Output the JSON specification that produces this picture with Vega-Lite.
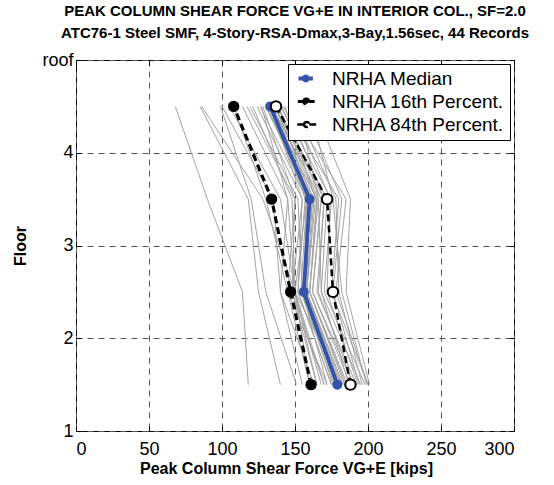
{
  "$schema": "https://vega.github.io/schema/vega-lite/v6.json",
  "width": 438,
  "height": 371,
  "autosize": "none",
  "padding": {"left": 76, "top": 60, "right": 40, "bottom": 54},
  "title": {
    "text": "PEAK COLUMN SHEAR FORCE VG+E IN INTERIOR COL., SF=2.0",
    "subtitle": "ATC76-1 Steel SMF, 4-Story-RSA-Dmax,3-Bay,1.56sec, 44 Records",
    "font": "Liberation Sans",
    "fontSize": 15,
    "fontWeight": "bold",
    "color": "black",
    "subtitleFont": "Liberation Sans",
    "subtitleFontSize": 15,
    "subtitleFontWeight": "bold",
    "subtitleColor": "black",
    "subtitlePadding": 7,
    "offset": 10,
    "anchor": "middle"
  },
  "datasets": {
    "records": [
      {"r":1,"f":4.5,"v":68},{"r":1,"f":3.5,"v":90},{"r":1,"f":2.5,"v":114},{"r":1,"f":1.5,"v":118},
      {"r":2,"f":4.5,"v":85},{"r":2,"f":3.5,"v":118},{"r":2,"f":2.5,"v":125},{"r":2,"f":1.5,"v":140},
      {"r":3,"f":4.5,"v":86},{"r":3,"f":3.5,"v":128},{"r":3,"f":2.5,"v":150},{"r":3,"f":1.5,"v":160},
      {"r":4,"f":4.5,"v":99},{"r":4,"f":3.5,"v":120},{"r":4,"f":2.5,"v":130},{"r":4,"f":1.5,"v":151},
      {"r":5,"f":4.5,"v":100},{"r":5,"f":3.5,"v":135},{"r":5,"f":2.5,"v":140},{"r":5,"f":1.5,"v":155},
      {"r":6,"f":4.5,"v":105},{"r":6,"f":3.5,"v":140},{"r":6,"f":2.5,"v":150},{"r":6,"f":1.5,"v":165},
      {"r":7,"f":4.5,"v":108},{"r":7,"f":3.5,"v":130},{"r":7,"f":2.5,"v":145},{"r":7,"f":1.5,"v":160},
      {"r":8,"f":4.5,"v":114},{"r":8,"f":3.5,"v":145},{"r":8,"f":2.5,"v":150},{"r":8,"f":1.5,"v":170},
      {"r":9,"f":4.5,"v":117},{"r":9,"f":3.5,"v":150},{"r":9,"f":2.5,"v":148},{"r":9,"f":1.5,"v":165},
      {"r":10,"f":4.5,"v":119},{"r":10,"f":3.5,"v":152},{"r":10,"f":2.5,"v":155},{"r":10,"f":1.5,"v":172},
      {"r":11,"f":4.5,"v":121},{"r":11,"f":3.5,"v":148},{"r":11,"f":2.5,"v":150},{"r":11,"f":1.5,"v":168},
      {"r":12,"f":4.5,"v":124},{"r":12,"f":3.5,"v":155},{"r":12,"f":2.5,"v":152},{"r":12,"f":1.5,"v":175},
      {"r":13,"f":4.5,"v":126},{"r":13,"f":3.5,"v":158},{"r":13,"f":2.5,"v":156},{"r":13,"f":1.5,"v":178},
      {"r":14,"f":4.5,"v":128},{"r":14,"f":3.5,"v":150},{"r":14,"f":2.5,"v":145},{"r":14,"f":1.5,"v":172},
      {"r":15,"f":4.5,"v":130},{"r":15,"f":3.5,"v":160},{"r":15,"f":2.5,"v":158},{"r":15,"f":1.5,"v":180},
      {"r":16,"f":4.5,"v":130},{"r":16,"f":3.5,"v":162},{"r":16,"f":2.5,"v":155},{"r":16,"f":1.5,"v":176},
      {"r":17,"f":4.5,"v":131},{"r":17,"f":3.5,"v":158},{"r":17,"f":2.5,"v":150},{"r":17,"f":1.5,"v":182},
      {"r":18,"f":4.5,"v":132},{"r":18,"f":3.5,"v":165},{"r":18,"f":2.5,"v":160},{"r":18,"f":1.5,"v":185},
      {"r":19,"f":4.5,"v":133},{"r":19,"f":3.5,"v":160},{"r":19,"f":2.5,"v":155},{"r":19,"f":1.5,"v":178},
      {"r":20,"f":4.5,"v":133},{"r":20,"f":3.5,"v":155},{"r":20,"f":2.5,"v":148},{"r":20,"f":1.5,"v":170},
      {"r":21,"f":4.5,"v":134},{"r":21,"f":3.5,"v":163},{"r":21,"f":2.5,"v":158},{"r":21,"f":1.5,"v":183},
      {"r":22,"f":4.5,"v":134},{"r":22,"f":3.5,"v":168},{"r":22,"f":2.5,"v":162},{"r":22,"f":1.5,"v":190},
      {"r":23,"f":4.5,"v":135},{"r":23,"f":3.5,"v":160},{"r":23,"f":2.5,"v":157},{"r":23,"f":1.5,"v":180},
      {"r":24,"f":4.5,"v":135},{"r":24,"f":3.5,"v":157},{"r":24,"f":2.5,"v":152},{"r":24,"f":1.5,"v":175},
      {"r":25,"f":4.5,"v":136},{"r":25,"f":3.5,"v":165},{"r":25,"f":2.5,"v":160},{"r":25,"f":1.5,"v":186},
      {"r":26,"f":4.5,"v":136},{"r":26,"f":3.5,"v":170},{"r":26,"f":2.5,"v":165},{"r":26,"f":1.5,"v":192},
      {"r":27,"f":4.5,"v":137},{"r":27,"f":3.5,"v":162},{"r":27,"f":2.5,"v":158},{"r":27,"f":1.5,"v":181},
      {"r":28,"f":4.5,"v":137},{"r":28,"f":3.5,"v":158},{"r":28,"f":2.5,"v":154},{"r":28,"f":1.5,"v":177},
      {"r":29,"f":4.5,"v":138},{"r":29,"f":3.5,"v":172},{"r":29,"f":2.5,"v":168},{"r":29,"f":1.5,"v":195},
      {"r":30,"f":4.5,"v":138},{"r":30,"f":3.5,"v":166},{"r":30,"f":2.5,"v":160},{"r":30,"f":1.5,"v":184},
      {"r":31,"f":4.5,"v":139},{"r":31,"f":3.5,"v":160},{"r":31,"f":2.5,"v":156},{"r":31,"f":1.5,"v":179},
      {"r":32,"f":4.5,"v":140},{"r":32,"f":3.5,"v":175},{"r":32,"f":2.5,"v":170},{"r":32,"f":1.5,"v":198},
      {"r":33,"f":4.5,"v":141},{"r":33,"f":3.5,"v":168},{"r":33,"f":2.5,"v":162},{"r":33,"f":1.5,"v":188},
      {"r":34,"f":4.5,"v":142},{"r":34,"f":3.5,"v":180},{"r":34,"f":2.5,"v":175},{"r":34,"f":1.5,"v":200},
      {"r":35,"f":4.5,"v":143},{"r":35,"f":3.5,"v":164},{"r":35,"f":2.5,"v":158},{"r":35,"f":1.5,"v":182},
      {"r":36,"f":4.5,"v":145},{"r":36,"f":3.5,"v":170},{"r":36,"f":2.5,"v":166},{"r":36,"f":1.5,"v":190},
      {"r":37,"f":4.5,"v":146},{"r":37,"f":3.5,"v":185},{"r":37,"f":2.5,"v":178},{"r":37,"f":1.5,"v":200},
      {"r":38,"f":4.5,"v":148},{"r":38,"f":3.5,"v":174},{"r":38,"f":2.5,"v":172},{"r":38,"f":1.5,"v":193},
      {"r":39,"f":4.5,"v":150},{"r":39,"f":3.5,"v":178},{"r":39,"f":2.5,"v":180},{"r":39,"f":1.5,"v":196},
      {"r":40,"f":4.5,"v":152},{"r":40,"f":3.5,"v":166},{"r":40,"f":2.5,"v":168},{"r":40,"f":1.5,"v":187},
      {"r":41,"f":4.5,"v":155},{"r":41,"f":3.5,"v":182},{"r":41,"f":2.5,"v":176},{"r":41,"f":1.5,"v":194},
      {"r":42,"f":4.5,"v":160},{"r":42,"f":3.5,"v":176},{"r":42,"f":2.5,"v":182},{"r":42,"f":1.5,"v":199},
      {"r":43,"f":4.5,"v":163},{"r":43,"f":3.5,"v":188},{"r":43,"f":2.5,"v":185},{"r":43,"f":1.5,"v":201},
      {"r":44,"f":4.5,"v":127},{"r":44,"f":3.5,"v":145},{"r":44,"f":2.5,"v":140},{"r":44,"f":1.5,"v":163}
    ],
    "stats": [
      {"s":"NRHA Median","f":4.5,"v":133},{"s":"NRHA Median","f":3.5,"v":160},{"s":"NRHA Median","f":2.5,"v":156},{"s":"NRHA Median","f":1.5,"v":179},
      {"s":"NRHA 16th Percent.","f":4.5,"v":108},{"s":"NRHA 16th Percent.","f":3.5,"v":134},{"s":"NRHA 16th Percent.","f":2.5,"v":147},{"s":"NRHA 16th Percent.","f":1.5,"v":161},
      {"s":"NRHA 84th Percent.","f":4.5,"v":137},{"s":"NRHA 84th Percent.","f":3.5,"v":172},{"s":"NRHA 84th Percent.","f":2.5,"v":176},{"s":"NRHA 84th Percent.","f":1.5,"v":188}
    ]
  },
  "layer": [
    {
      "data": {"name": "records"},
      "mark": {"type": "line", "color": "#a4a4a4", "strokeWidth": 1},
      "encoding": {
        "x": {
          "field": "v", "type": "quantitative",
          "scale": {"domain": [0, 300], "nice": false, "zero": false},
          "axis": {
            "orient": "bottom",
            "values": [0, 50, 100, 150, 200, 250, 300],
            "title": "Peak Column Shear Force VG+E [kips]",
            "titleX": 210,
            "titleAnchor": "middle",
            "grid": true,
            "labelPadding": 14
          }
        },
        "y": {
          "field": "f", "type": "quantitative",
          "scale": {"domain": [1, 5], "nice": false, "zero": false},
          "axis": {
            "orient": "left",
            "values": [1, 2, 3, 4, 5],
            "labelExpr": "datum.value == 5 ? 'roof' : datum.label",
            "title": "Floor",
            "grid": true,
            "labelPadding": 8
          }
        },
        "detail": {"field": "r", "type": "nominal"},
        "order": {"field": "f", "type": "quantitative"}
      }
    },
    {
      "data": {"name": "stats"},
      "mark": {"type": "line"},
      "encoding": {
        "x": {
          "field": "v", "type": "quantitative",
          "axis": {"orient": "top", "values": [0, 50, 100, 150, 200, 250, 300], "labels": false, "title": null, "grid": false}
        },
        "y": {
          "field": "f", "type": "quantitative",
          "axis": {"orient": "right", "values": [1, 2, 3, 4, 5], "labels": false, "title": null, "grid": false}
        },
        "color": {
          "field": "s", "type": "nominal",
          "scale": {"domain": ["NRHA Median", "NRHA 16th Percent.", "NRHA 84th Percent."], "range": ["#3553a8", "black", "black"]},
          "legend": {
            "title": null,
            "orient": "top-right",
            "offset": 4,
            "strokeColor": "black",
            "fillColor": "white",
            "padding": 5,
            "labelFont": "Liberation Sans",
            "labelFontSize": 19,
            "labelColor": "black",
            "labelLimit": 0,
            "labelOffset": 20,
            "symbolType": "M-1,0H0.3M1.3,0H2.6M0.3,0A0.5,0.5,0,1,1,1.3,0A0.5,0.5,0,1,1,0.3,0Z",
            "symbolSize": 400,
            "rowPadding": 3,
            "encode": {
              "symbols": {
                "update": {
                  "size": {"value": 400},
                  "fill": {"signal": "datum.value == 'NRHA 84th Percent.' ? 'white' : (datum.value == 'NRHA Median' ? '#3553a8' : 'black')"},
                  "strokeWidth": {"signal": "datum.value == 'NRHA Median' ? 3.5 : 2.5"}
                }
              }
            }
          }
        },
        "strokeDash": {
          "field": "s", "type": "nominal",
          "scale": {"domain": ["NRHA Median", "NRHA 16th Percent.", "NRHA 84th Percent."], "range": [[1, 0], [7, 4], [7, 4]]},
          "legend": {"title": null, "orient": "top-right"}
        },
        "strokeWidth": {
          "field": "s", "type": "nominal",
          "scale": {"domain": ["NRHA Median", "NRHA 16th Percent.", "NRHA 84th Percent."], "range": [3.8, 2.5, 2.5]},
          "legend": null
        },
        "order": {"field": "f", "type": "quantitative"}
      }
    },
    {
      "data": {"name": "stats"},
      "mark": {"type": "point", "shape": "circle", "strokeWidth": 2, "opacity": 1},
      "encoding": {
        "x": {"field": "v", "type": "quantitative", "axis": null},
        "y": {"field": "f", "type": "quantitative", "axis": null},
        "color": {"field": "s", "type": "nominal"},
        "fill": {
          "field": "s", "type": "nominal",
          "scale": {"domain": ["NRHA Median", "NRHA 16th Percent.", "NRHA 84th Percent."], "range": ["#3553a8", "black", "white"]},
          "legend": null
        },
        "size": {
          "field": "s", "type": "nominal",
          "scale": {"domain": ["NRHA Median", "NRHA 16th Percent.", "NRHA 84th Percent."], "range": [64, 110, 50]},
          "legend": null
        }
      }
    }
  ],
  "resolve": {"axis": {"x": "independent", "y": "independent"}},
  "config": {
    "font": "Liberation Sans",
    "view": {"stroke": "black", "strokeWidth": 1},
    "axis": {
      "domain": false,
      "tickColor": "black",
      "tickSize": -5,
      "tickWidth": 1,
      "labelFont": "Liberation Sans",
      "labelFontSize": 18,
      "labelColor": "black",
      "titleFont": "Liberation Sans",
      "titleFontSize": 16,
      "titleFontWeight": "bold",
      "titleColor": "black",
      "gridColor": "#555555",
      "gridDash": [6, 5],
      "gridWidth": 1
    },
    "axisX": {"titlePadding": 2},
    "axisY": {"titlePadding": 13}
  }
}
